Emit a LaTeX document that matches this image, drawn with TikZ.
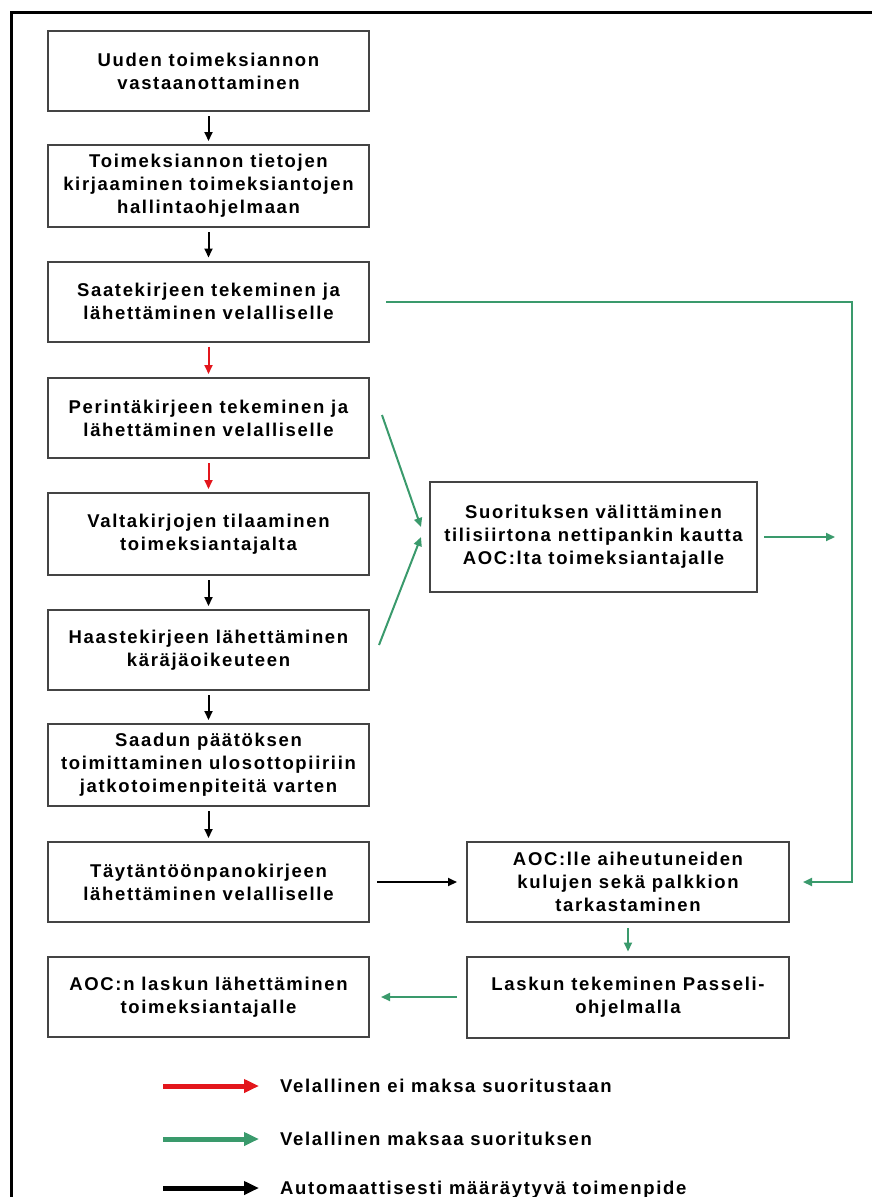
\documentclass[tikz,border=0pt]{standalone}
\usepackage{fontspec}
\setmainfont{Liberation Sans}[LetterSpace=9]
\usetikzlibrary{arrows.meta, calc}
\definecolor{vihrea}{HTML}{3A9A6C}
\definecolor{punainen}{HTML}{E3161C}
\definecolor{reuna}{HTML}{444444}
\tikzset{
  every picture/.style={font=\bfseries\fontsize{18.5}{23}\selectfont, >={Triangle[length=9pt,width=8pt]}},
  vaihe/.style={draw=reuna, line width=2pt, minimum width=321pt, minimum height=80pt,
              align=center, inner sep=2pt},
  musta/.style={->, line width=2pt, black, shorten <=4pt, shorten >=3pt},
  puna/.style={->, line width=2pt, punainen, shorten <=4pt, shorten >=3pt},
  viher/.style={->, line width=2pt, vihrea},
  selite/.style={line width=5pt, -{Triangle[length=15pt,width=13pt]}, shorten >=21pt},
  selteksti/.style={anchor=west, inner sep=0pt, text height=13.5pt, text depth=0pt},
}
\begin{document}
\begin{tikzpicture}[x=1pt, y=-1pt]
  \useasboundingbox (0,0) rectangle (872,1197);
  \draw[line width=3pt] (11,1197) -- (11,12) -- (872,12);

  % vasen sarake
  \node[vaihe] (uusi) at (208.5,71) {Uuden toimeksiannon\\vastaanottaminen};
  \node[vaihe, minimum height=82pt] (kirjaus) at (208.5,186) {Toimeksiannon tietojen\\kirjaaminen toimeksiantojen\\hallintaohjelmaan};
  \node[vaihe] (saate) at (208.5,301.5) {Saatekirjeen tekeminen ja\\lähettäminen velalliselle};
  \node[vaihe] (perinta) at (208.5,418) {Perintäkirjeen tekeminen ja\\lähettäminen velalliselle};
  \node[vaihe, minimum height=82pt] (valta) at (208.5,534) {Valtakirjojen tilaaminen\\toimeksiantajalta};
  \node[vaihe] (haaste) at (208.5,650) {Haastekirjeen lähettäminen\\käräjäoikeuteen};
  \node[vaihe, minimum height=82pt] (paatos) at (208.5,765) {Saadun päätöksen\\toimittaminen ulosottopiiriin\\jatkotoimenpiteitä varten};
  \node[vaihe] (taytanto) at (208.5,882) {Täytäntöönpanokirjeen\\lähettäminen velalliselle};
  \node[vaihe] (lahetys) at (208.5,997) {AOC:n laskun lähettäminen\\toimeksiantajalle};

  % oikea sarake
  \node[vaihe, minimum width=327pt, minimum height=110pt] (suoritus) at (593.5,537) {Suorituksen välittäminen\\tilisiirtona nettipankin kautta\\AOC:lta toimeksiantajalle};
  \node[vaihe, minimum width=322pt] (kulut) at (628,882) {AOC:lle aiheutuneiden\\kulujen sekä palkkion\\tarkastaminen};
  \node[vaihe, minimum width=322pt, minimum height=81pt] (lasku) at (628,997) {Laskun tekeminen Passeli-\\ohjelmalla};

  \draw[musta] (uusi) -- (kirjaus);
  \draw[musta] (kirjaus) -- (saate);
  \draw[puna] (saate) -- (perinta);
  \draw[puna] (perinta) -- (valta);
  \draw[musta] (valta) -- (haaste);
  \draw[musta] (haaste) -- (paatos);
  \draw[musta] (paatos) -- (taytanto);
  \draw[musta, shorten <=7pt, shorten >=9pt] (taytanto) -- (kulut);

  \coordinate (kulma) at (852,301.5);
  \coordinate (vapaa) at (835,537);
  \draw[viher, shorten <=16pt, shorten >=13pt] (saate.east) -- (kulma) |- (kulut.east);
  \draw[viher] ($(perinta.east)+(12,-3)$) -- ($(suoritus.west)+(-8,-10)$);
  \draw[viher] ($(haaste.east)+(9,-5)$) -- ($(suoritus.west)+(-8,0)$);
  \draw[viher, shorten <=6pt] (suoritus.east) -- (vapaa);
  \draw[viher, shorten <=5pt, shorten >=4pt] (kulut) -- (lasku);
  \draw[viher, shorten <=9pt, shorten >=11pt] (lasku) -- (lahetys);

  % selite
  \node[selteksti] (s1) at (280,1086) {Velallinen ei maksa suoritustaan};
  \node[selteksti] (s2) at (280,1139) {Velallinen maksaa suorituksen};
  \node[selteksti] (s3) at (280,1188) {Automaattisesti määräytyvä toimenpide};
  \coordinate (a1) at (163,1086);
  \coordinate (a2) at (163,1139);
  \coordinate (a3) at (163,1188);
  \draw[selite, punainen] (a1) -- (s1.west);
  \draw[selite, vihrea] (a2) -- (s2.west);
  \draw[selite, black] (a3) -- (s3.west);
\end{tikzpicture}
\end{document}
